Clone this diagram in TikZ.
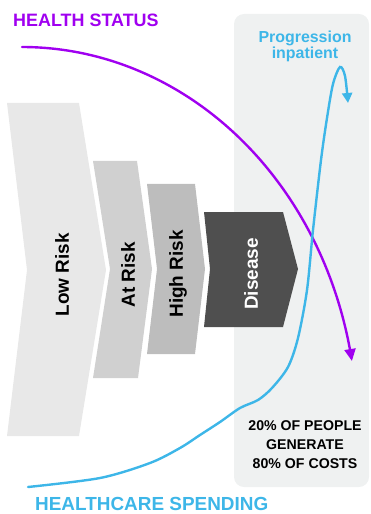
\documentclass[tikz,border=0pt]{standalone}
\usepackage{fontspec}
\setmainfont{Liberation Sans}
\usetikzlibrary{arrows.meta}
\definecolor{panelgray}{HTML}{EFF1F1}
\definecolor{lowgray}{HTML}{E8E8E8}
\definecolor{atgray}{HTML}{D0D0D0}
\definecolor{highgray}{HTML}{BDBDBD}
\definecolor{disgray}{HTML}{4F4F4F}
\definecolor{healthpurple}{RGB}{160,0,240}
\definecolor{spendblue}{HTML}{3DB6E8}
\tikzset{
  stagelabel/.style={rotate=90, inner sep=0pt, font=\fontsize{19}{22}\selectfont\bfseries},
  bigtitle/.style={inner sep=0pt, anchor=base west, font=\fontsize{18}{20}\selectfont\bfseries},
  curveline/.style={line width=2.4bp, line cap=round},
}
\begin{document}
\begin{tikzpicture}[x=1bp,y=-1bp]
\useasboundingbox (0,0) rectangle (370,514);
% panel
\fill[panelgray, rounded corners=10bp] (234,14) rectangle (369,487);
% chevrons
\fill[lowgray] (7,103) -- (79,103) -- (106,270) -- (79,436) -- (7,436) -- (27,270) -- cycle;
\fill[atgray] (93,161) -- (137,161) -- (152,269) -- (138,378) -- (93,378) -- (110,269) -- cycle;
\fill[highgray] (147,184) -- (195,184) -- (205,269) -- (195,354) -- (147,354) -- (157,269) -- cycle;
\fill[disgray] (204,212) -- (283,212) -- (298,269) -- (283,327) -- (204,327) -- (210,269) -- cycle;
% stage labels
\node[stagelabel] (low) at (62,275) {Low Risk};
\node[stagelabel] (atrisk) at (128,275) {At Risk};
\node[stagelabel] (high) at (178,274) {High Risk};
\node[stagelabel, text=white] (disease) at (251,274) {Disease};
% titles
\node[bigtitle, text=healthpurple] (hs) at (13,27) {HEALTH STATUS};
\node[bigtitle, text=spendblue, font=\fontsize{19}{21}\selectfont\bfseries] (sp) at (35,510) {HEALTHCARE SPENDING};
\node[inner sep=0pt, anchor=north, align=center, text=spendblue,
      font=\fontsize{16}{16}\selectfont\bfseries] (prog) at (305,31) {Progression\\inpatient};
\node[inner sep=0pt, anchor=north, align=center,
      font=\fontsize{14.2}{19}\selectfont\bfseries] (note) at (305,420.5) {20\% OF PEOPLE\\GENERATE\\80\% OF COSTS};
% curves
\draw[curveline, healthpurple, -{Triangle[length=12bp,width=11bp]}]
  plot[domain=90:10, samples=80, smooth] ({22+335*cos(\x)}, {427-380*sin(\x)});
\draw[curveline, spendblue, -{Triangle[length=10bp,width=10bp]}]
  plot[smooth, tension=0.5] coordinates {(28,487) (100,478) (150,463) (180,448) (200,435) (220,422) (240,408) (258,400) (272,388) (288,367) (298,338) (307,290) (313,230) (321,160) (327,118) (333,84) (340,67) (345,76) (348,103)};
\end{tikzpicture}
\end{document}
